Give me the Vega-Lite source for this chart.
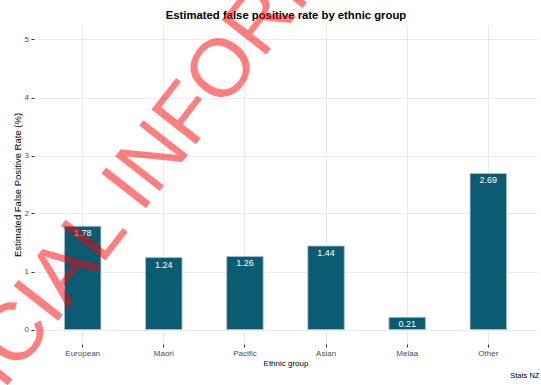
{
  "$schema": "https://vega.github.io/schema/vega-lite/v6.json",
  "width": 503,
  "height": 319,
  "autosize": {"type": "none"},
  "padding": {"left": 34, "top": 25, "right": 4, "bottom": 41},
  "background": "white",
  "config": {"font": "Liberation Sans", "view": {"stroke": null}},
  "datasets": {
    "rates": [
      {"group": "European", "rate": 1.78},
      {"group": "Maori", "rate": 1.24},
      {"group": "Pacific", "rate": 1.26},
      {"group": "Asian", "rate": 1.44},
      {"group": "Melaa", "rate": 0.21},
      {"group": "Other", "rate": 2.69}
    ],
    "mark": [
      {"wm": "OFFICIAL INFORMATION", "wx": 1.16, "wy": 3.47}
    ],
    "caption": [
      {"label": "Stats NZ", "wx": 5.63, "wy": -0.8}
    ]
  },
  "resolve": {"scale": {"x": "independent"}, "axis": {"x": "independent"}},
  "layer": [
    {
      "data": {"name": "rates"},
      "encoding": {
        "x": {
          "field": "group", "type": "nominal", "sort": null,
          "scale": {"paddingInner": 0.55, "paddingOuter": 0.375},
          "axis": {
            "title": "Ethnic group", "titleFontSize": 8, "titleFontWeight": "normal", "titleColor": "black", "titlePadding": 2,
            "labelAngle": 0, "labelFontSize": 8, "labelColor": "#4d4d4d", "labelPadding": 2,
            "tickColor": "#333333", "tickSize": 3, "domain": false,
            "grid": true, "gridColor": "#ebebeb", "bandPosition": 0.5
          }
        },
        "y": {
          "field": "rate", "type": "quantitative",
          "scale": {"domain": [-0.25, 5.25], "nice": false, "zero": false},
          "axis": {
            "title": "Estimated False Positive Rate (%)", "titleFontSize": 9.5, "titleFontWeight": "normal", "titleColor": "black", "titlePadding": 2,
            "values": [0, 0.5, 1, 1.5, 2, 2.5, 3, 3.5, 4, 4.5, 5],
            "labelExpr": "datum.value % 1 === 0 ? format(datum.value, 'd') : ''",
            "labelFontSize": 8, "labelColor": "#4d4d4d", "labelPadding": 2.5,
            "tickColor": "#333333", "tickSize": 3,
            "tickOpacity": {"condition": {"test": "datum.value % 1 === 0", "value": 1}, "value": 0},
            "domain": false,
            "grid": true,
            "gridColor": {"condition": {"test": "datum.value % 1 === 0", "value": "#ebebeb"}, "value": "#f4f4f4"}
          }
        }
      },
      "layer": [
        {
          "mark": {"type": "bar", "fill": "#0b5c73", "stroke": "#a9c4cc", "strokeWidth": 0.8},
          "encoding": {"y2": {"datum": 0}}
        },
        {
          "mark": {"type": "text", "fill": "white", "baseline": "top", "dy": 3, "fontSize": 9},
          "encoding": {
            "text": {"field": "rate", "type": "quantitative", "format": ".2f"}
          }
        }
      ]
    },
    {
      "encoding": {
        "x": {
          "field": "wx", "type": "quantitative",
          "scale": {"domain": [-0.6, 5.6], "nice": false, "zero": false},
          "axis": {
            "orient": "top", "labels": false, "ticks": false, "domain": false, "grid": false,
            "title": "Estimated false positive rate by ethnic group", "titleAnchor": "middle", "titleFontSize": 11.3,
            "titleFontWeight": "bold", "titleColor": "black", "titlePadding": 5
          }
        },
        "y": {"field": "wy", "type": "quantitative"}
      },
      "layer": [
        {
          "data": {"name": "caption"},
          "mark": {"type": "text", "fill": "black", "fontSize": 7.5, "align": "right", "baseline": "middle"},
          "encoding": {"text": {"field": "label"}}
        },
        {
          "data": {"name": "mark"},
          "mark": {"type": "text", "fill": "#ff0000", "opacity": 0.5, "fontSize": 82, "angle": 308, "align": "center", "baseline": "middle"},
          "encoding": {"text": {"field": "wm"}}
        }
      ]
    }
  ]
}
